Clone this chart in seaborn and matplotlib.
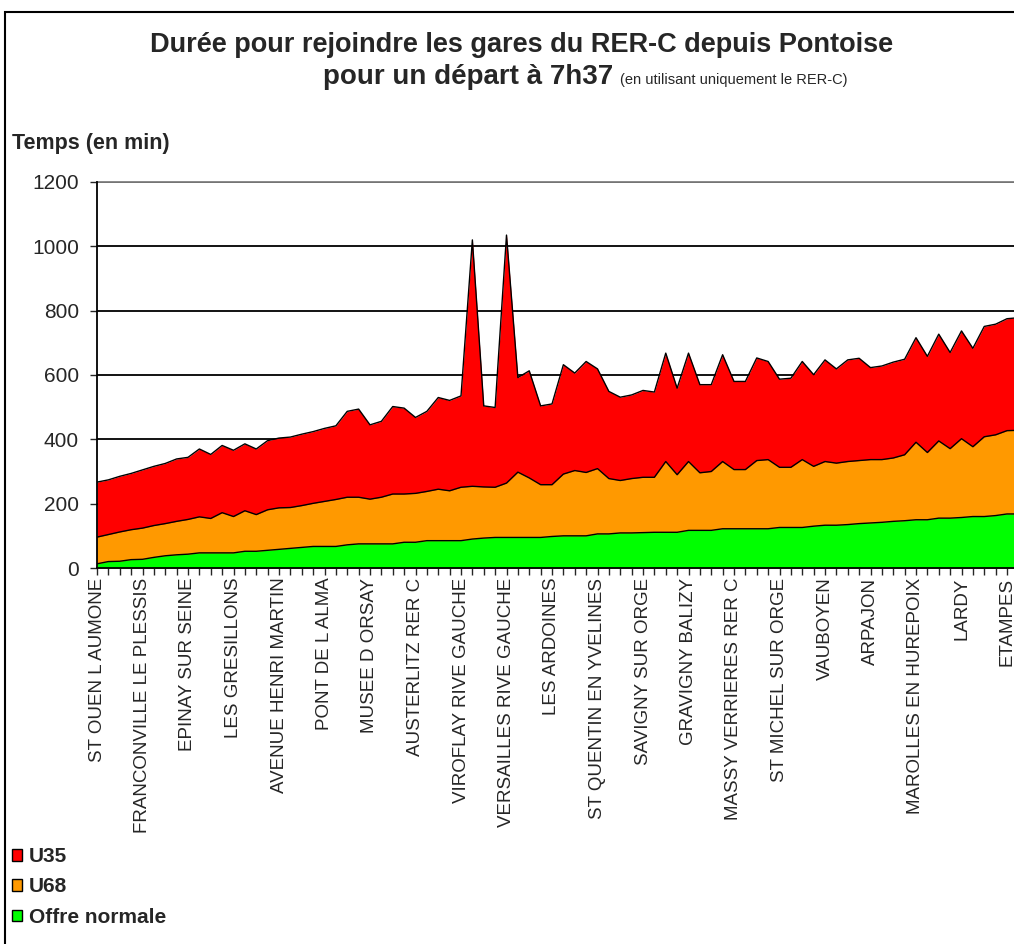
import numpy as np
import matplotlib
matplotlib.use("Agg")
import matplotlib.pyplot as plt
from matplotlib.patches import Patch, Rectangle
import seaborn as sns

# Stations (one label every 4 stops)
stations = ["ST OUEN L AUMONE", "FRANCONVILLE LE PLESSIS", "EPINAY SUR SEINE",
            "LES GRESILLONS", "AVENUE HENRI MARTIN", "PONT DE L ALMA",
            "MUSEE D ORSAY", "AUSTERLITZ RER C", "VIROFLAY RIVE GAUCHE",
            "VERSAILLES RIVE GAUCHE", "LES ARDOINES", "ST QUENTIN EN YVELINES",
            "SAVIGNY SUR ORGE", "GRAVIGNY BALIZY", "MASSY VERRIERES RER C",
            "ST MICHEL SUR ORGE", "VAUBOYEN", "ARPAJON", "MAROLLES EN HUREPOIX",
            "LARDY", "ETAMPES"]

# Travel time (min) for each stop, per scenario
u35 = [267, 274, 285, 294, 305, 316, 325, 339, 344, 370, 353, 381, 366, 386, 370, 396, 404,
       407, 416, 424, 434, 442, 487, 494, 445, 456, 502, 497, 468, 487, 530, 521, 535,
       1020, 504, 499, 1035, 592, 613, 504, 510, 632, 606, 642, 619, 549, 531, 538, 552,
       547, 668, 559, 668, 570, 570, 663, 580, 580, 653, 642, 587, 590, 642, 601, 647,
       619, 647, 652, 623, 628, 640, 649, 716, 658, 727, 670, 737, 683, 751, 758, 775, 778]
u68 = [96, 104, 112, 119, 124, 132, 138, 145, 151, 159, 154, 172, 160, 178, 166, 181, 187,
       188, 194, 201, 207, 213, 220, 220, 214, 220, 230, 230, 232, 238, 245, 240, 251,
       254, 252, 251, 264, 298, 280, 259, 259, 292, 303, 297, 309, 278, 272, 278, 282,
       282, 331, 290, 331, 296, 300, 331, 306, 306, 334, 337, 313, 313, 337, 316, 331,
       326, 331, 334, 337, 337, 342, 352, 391, 359, 395, 371, 402, 377, 408, 414, 427, 428]
normale = [13, 20, 21, 26, 27, 33, 38, 41, 43, 47, 47, 47, 47, 52, 52, 55, 58,
           61, 64, 67, 67, 67, 72, 75, 75, 75, 75, 80, 80, 85, 85, 85, 85,
           90, 93, 95, 95, 95, 95, 95, 98, 100, 100, 100, 106, 106, 109, 109, 110,
           111, 111, 111, 117, 117, 117, 122, 122, 122, 122, 122, 126, 126, 126, 130, 133,
           133, 135, 138, 140, 142, 145, 147, 150, 150, 155, 155, 157, 160, 160, 163, 168, 168]

series = [("U35", u35, "#ff0000"), ("U68", u68, "#ff9900"), ("Offre normale", normale, "#00ff00")]

sns.set_style("white")
plt.rcParams["font.family"] = ["Liberation Sans", "DejaVu Sans"]

W, H = 1014, 944
fig = plt.figure(figsize=(W / 100, H / 100), dpi=100)
ax = fig.add_axes([97 / W, 1 - 568 / H, (W - 97) / W, (568 - 182) / H])

x = np.arange(len(u35))
for name, vals, col in series:
    ax.fill_between(x, vals, 0, color=col, zorder=2, linewidth=0)
    sns.lineplot(x=x, y=vals, color="black", linewidth=1.0, ax=ax, zorder=3)

ax.set_xlim(0, (W - 97) / 11.375)
ax.set_ylim(0, 1200)
ax.set_yticks(range(0, 1201, 200))
ax.set_xticks(range(0, 81, 4))
ax.set_xticklabels(stations, rotation=90, fontsize=13.5, va="top", ha="center")
ax.set_xticks(range(0, 81), minor=True)
ax.tick_params(axis="y", direction="out", length=5, width=1, labelsize=15, pad=8, left=True)
ax.tick_params(axis="x", which="both", direction="out", length=5, width=1, bottom=True, pad=2)
ax.set_xlabel("")
ax.set_ylabel("")

ax.grid(axis="y", color="black", linewidth=1.3, zorder=1)
ax.set_axisbelow(True)
for s in ["left", "bottom"]:
    ax.spines[s].set_color("black")
    ax.spines[s].set_linewidth(1.3)
    ax.spines[s].set_zorder(4)
ax.spines["top"].set_color("#808080")
ax.spines["top"].set_linewidth(1.3)
ax.spines["right"].set_visible(False)

# Titles
fig.text(522 / W, 1 - 52 / H, "Durée pour rejoindre les gares du RER-C depuis Pontoise",
         ha="center", va="baseline", fontsize=19.5, weight="bold")
fig.text(613 / W, 1 - 84 / H, "pour un départ à 7h37", ha="right", va="baseline",
         fontsize=20, weight="bold")
fig.text(620 / W, 1 - 84 / H, "(en utilisant uniquement le RER-C)", ha="left", va="baseline",
         fontsize=10.5)
fig.text(12 / W, 1 - 143 / H, "Temps (en min)", ha="left", va="center", fontsize=15.5, weight="bold")

# Figure frame
fig.add_artist(Rectangle((5 / W, -0.1), 1.2, 1.1 - 12 / H, transform=fig.transFigure,
                         fill=False, edgecolor="black", linewidth=1.5))

handles = [Patch(facecolor=col, edgecolor="black", linewidth=1) for _, _, col in series]
fig.legend(handles, [n for n, _, _ in series], loc="upper left",
           bbox_to_anchor=(12 / W, 1 - 847 / H), frameon=False,
           prop={"weight": "bold", "size": 15}, handlelength=0.5, handleheight=0.5,
           handletextpad=0.3, labelspacing=0.55, borderpad=0, borderaxespad=0)

fig.savefig("out.png", dpi=100)
